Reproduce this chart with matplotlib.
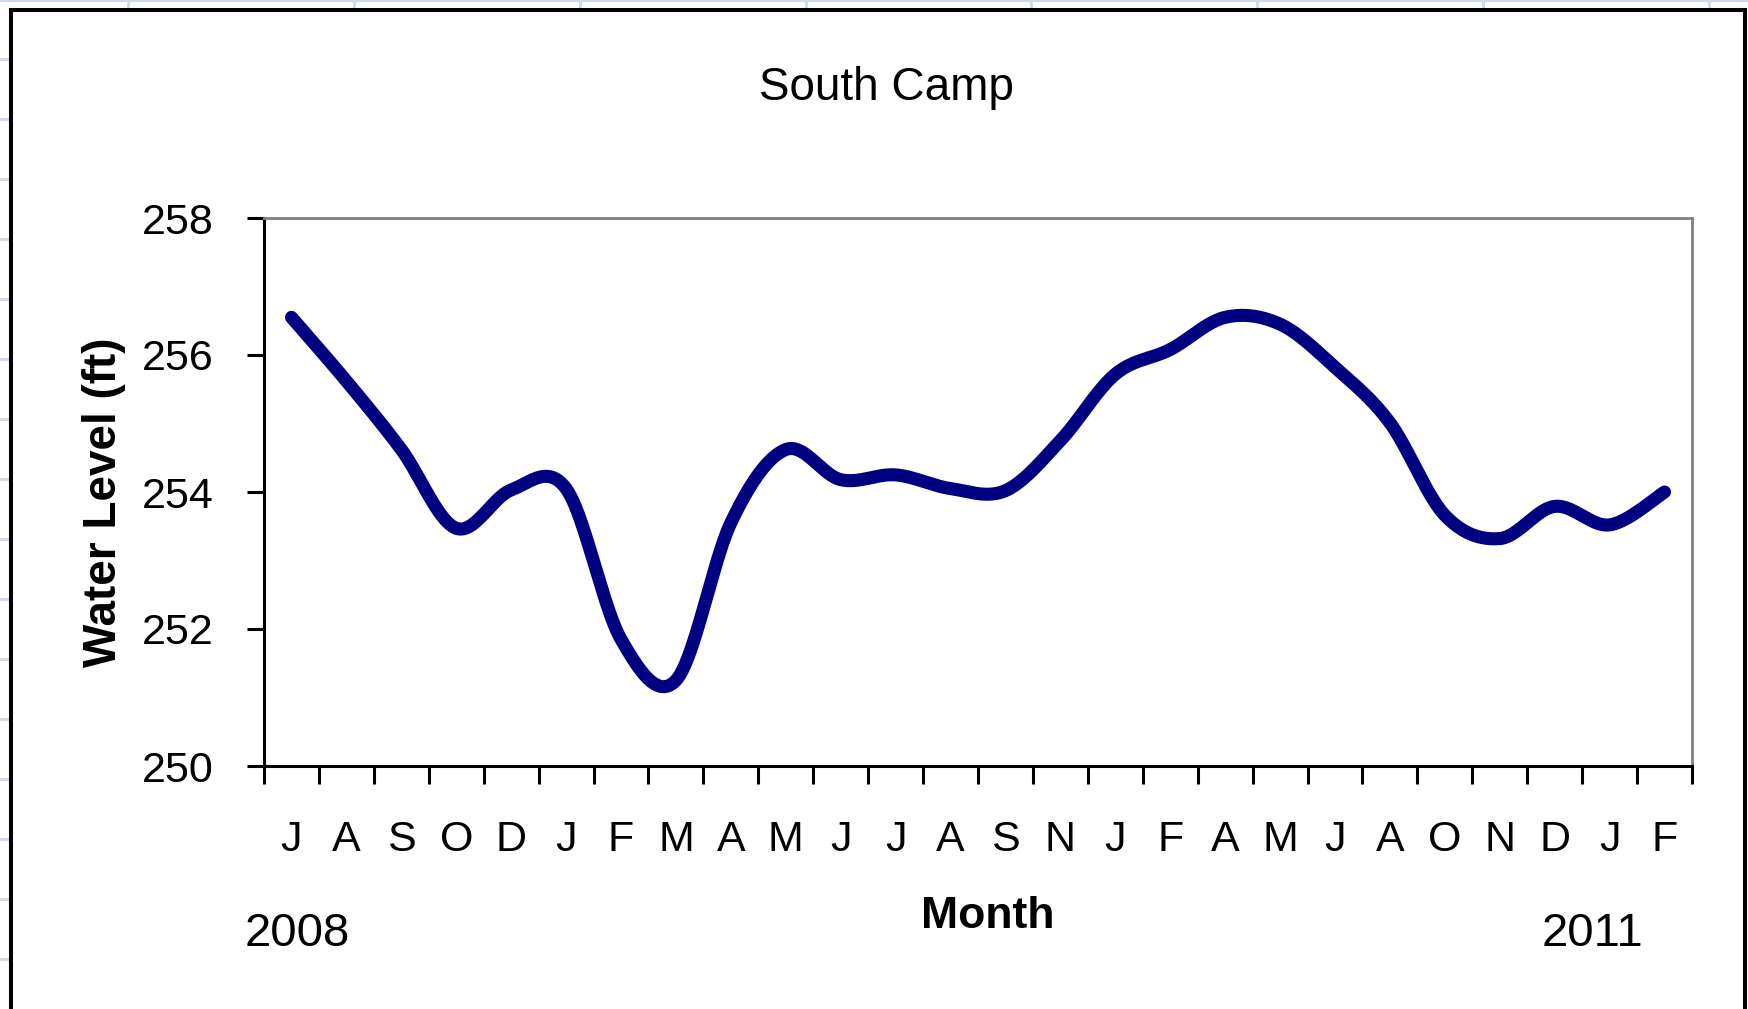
import numpy as np
import matplotlib
matplotlib.use("Agg")
import matplotlib.pyplot as plt
from matplotlib.lines import Line2D

# months shown on the category axis (Jul 2008 .. Feb 2011, some months missing)
months = ["J", "A", "S", "O", "D", "J", "F", "M", "A", "M", "J", "J", "A",
          "S", "N", "J", "F", "A", "M", "J", "A", "O", "N", "D", "J", "F"]
levels = [256.55, 255.62, 254.62, 253.47, 254.03, 254.05, 251.85, 251.25,
          253.55, 254.62, 254.18, 254.25, 254.05, 254.02, 254.75, 255.72,
          256.08, 256.55, 256.45, 255.82, 255.01, 253.66, 253.32, 253.79,
          253.52, 254.00]
y_ticks = [250, 252, 254, 256, 258]

W, H = 1748, 1009

plt.rcParams["font.family"] = ["Liberation Sans", "DejaVu Sans"]


def smooth(x, y, n=24):
    """Excel-style smoothed line (Catmull-Rom through every point)."""
    p = np.column_stack([x, y]).astype(float)
    p = np.vstack([p[0], p, p[-1]])
    out = []
    for i in range(1, len(p) - 2):
        p0, p1, p2, p3 = p[i - 1], p[i], p[i + 1], p[i + 2]
        c1 = p1 + (p2 - p0) / 6
        c2 = p2 - (p3 - p1) / 6
        t = np.linspace(0, 1, n, endpoint=(i == len(p) - 3))[:, None]
        seg = ((1 - t) ** 3) * p1 + 3 * ((1 - t) ** 2) * t * c1 \
            + 3 * (1 - t) * t ** 2 * c2 + t ** 3 * p2
        out.append(seg)
    out = np.vstack(out)
    return out[:, 0], out[:, 1]


fig = plt.figure(figsize=(W / 100, H / 100), dpi=100)
ax = fig.add_axes([264 / W, 1 - 766 / H, (1692 - 264) / W, (766 - 218) / H])

x = np.arange(len(months))
xs, ys = smooth(x, levels)
ax.plot(xs, ys, color="#000080", lw=9.4, solid_capstyle="round",
        solid_joinstyle="round")

ax.set_xlim(-0.5, len(months) - 0.5)
ax.set_ylim(250, 258)
ax.set_yticks(y_ticks)
ax.set_yticklabels([str(v) for v in y_ticks], fontsize=31)

ax.set_xticks(np.arange(-0.5, len(months), 1.0))
ax.set_xticklabels([])
ax.set_xticks(x, minor=True)
ax.set_xticklabels(months, minor=True, fontsize=31)
ax.tick_params(axis="x", which="major", direction="out", length=13, width=2.2)
ax.tick_params(axis="x", which="minor", length=0, pad=39)
ax.tick_params(axis="y", direction="out", length=12, width=2.2, pad=24)

for side in ["left", "bottom"]:
    ax.spines[side].set_color("black")
    ax.spines[side].set_linewidth(2.2)
for side in ["top", "right"]:
    ax.spines[side].set_color("#808080")
    ax.spines[side].set_linewidth(2.0)

fig.text(886 / W, 1 - 100 / H, "South Camp", fontsize=33, ha="center",
         va="baseline")
fig.text(104 / W, 1 - 502 / H, "Water Level (ft)", fontsize=33,
         fontweight="bold", rotation=90, ha="center", va="center")
fig.text(988 / W, 1 - 928 / H, "Month", fontsize=32, fontweight="bold",
         ha="center", va="baseline")
fig.text(245 / W, 1 - 946 / H, "2008", fontsize=34, ha="left", va="baseline")
fig.text(1542 / W, 1 - 946 / H, "2011", fontsize=34, ha="left", va="baseline")

# faint spreadsheet cell borders peeking around the chart object
grid_c = "#d0d7e5"
fig.add_artist(Line2D([0, 1], [1 - 1 / H, 1 - 1 / H], color=grid_c, lw=1.5))
for gx in [128, 354, 580, 806, 1031, 1257, 1483, 1709]:
    fig.add_artist(Line2D([gx / W, gx / W], [1, 1 - 9 / H], color=grid_c, lw=2))
for gy in range(59, H, 60):
    fig.add_artist(Line2D([0, 9 / W], [1 - gy / H, 1 - gy / H], color=grid_c, lw=2))

# chart object border
bx0, bx1, by = 11 / W, 1745 / W, 1 - 10 / H
fig.add_artist(Line2D([bx0, bx0], [0, by], color="black", lw=2.9))
fig.add_artist(Line2D([bx0, bx1], [by, by], color="black", lw=2.9))
fig.add_artist(Line2D([bx1, bx1], [0, by], color="black", lw=2.9))

fig.savefig("out.png", dpi=100, facecolor="white")
